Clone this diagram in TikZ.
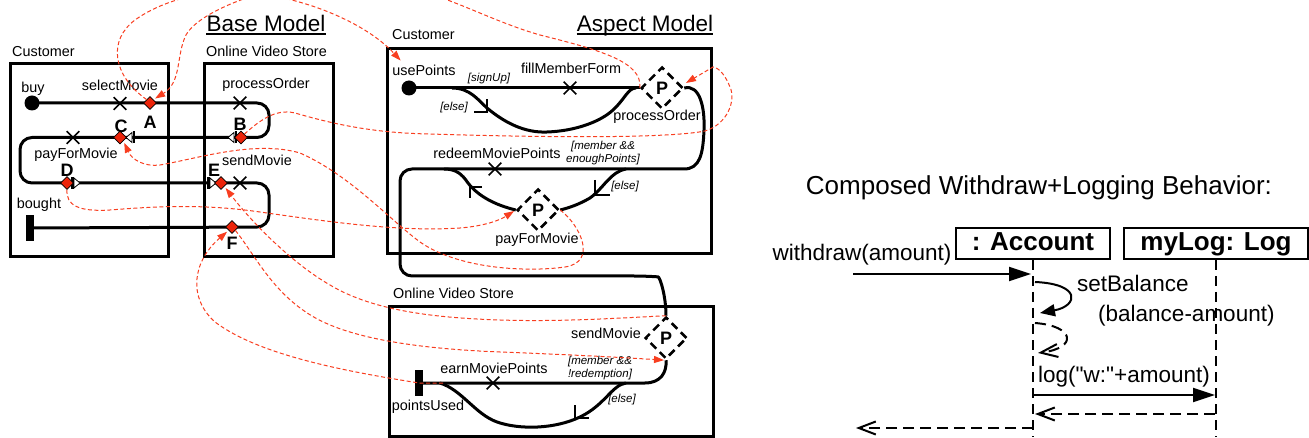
\documentclass[tikz,border=0pt]{standalone}
\usepackage{fontspec}
\setmainfont{Liberation Sans}
\usetikzlibrary{arrows.meta,shapes.geometric,shapes.misc}

\definecolor{mapred}{RGB}{248,62,32}
\definecolor{jpred}{RGB}{236,36,10}

\tikzset{
  x=1pt, y=-1pt,
  lbl/.style={inner sep=0pt, text height=10.5pt, text depth=3pt,
              font=\fontsize{14.4}{16}\selectfont},
  headtxt/.style={inner sep=0pt, anchor=base, font=\fontsize{22.5}{26}\selectfont},
  guardtxt/.style={inner sep=0pt, align=center, font=\fontsize{11.5}{13}\selectfont\itshape},
  jplbl/.style={inner sep=0pt, font=\fontsize{18}{20}\selectfont\bfseries},
  boxline/.style={draw, line width=3pt},
  flow/.style={line width=3pt},
  stickhead/.style={line width=2.6pt},
  startdot/.style={circle, fill, inner sep=0pt, minimum size=15pt},
  endbar/.style={rectangle, fill, inner sep=0pt, minimum width=8pt, minimum height=26pt},
  actx/.style={cross out, draw, line width=1.7pt, inner sep=0pt, minimum size=11pt},
  jpoint/.style={diamond, draw, fill=jpred, line width=0.6pt, inner sep=0pt,
                 minimum width=13pt, minimum height=13pt},
  proceedP/.style={diamond, draw, dash pattern=on 8pt off 5pt, line width=2.5pt, inner sep=0pt,
                   minimum width=42pt, minimum height=42pt, font=\fontsize{18}{20}\selectfont\bfseries},
  weave/.style={draw=mapred, line width=1pt, dash pattern=on 4pt off 2.5pt,
                -{Triangle[length=10pt,width=7pt]}, shorten >=2pt},
  gateleft/.pic={
    \filldraw[fill=white, draw=black, line width=0.8pt] (0,0) -- (6,-5) -- (6,5) -- cycle;
    \fill (6.5,-6) rectangle (9,6);},
  gateright/.pic={
    \filldraw[fill=white, draw=black, line width=0.8pt] (0,0) -- (-6,-5) -- (-6,5) -- cycle;
    \fill (-9,-6) rectangle (-6.5,6);},
  objbox/.style={draw, line width=2pt, inner sep=0pt, text height=19pt, text depth=5.5pt,
                 font=\fontsize{26}{30}\selectfont\bfseries},
  lifeline/.style={line width=1.6pt, dash pattern=on 10pt off 6pt},
  callmsg/.style={line width=2pt, -{Triangle[length=22pt,width=14pt]}},
  selfmsg/.style={line width=2pt, -{Triangle[length=15pt,width=12pt]}},
  retmsg/.style={line width=2pt, dash pattern=on 11pt off 6pt, -{Straight Barb[length=17pt,width=13pt]}},
  seqlbl/.style={inner sep=0pt, anchor=base west, font=\fontsize{22.5}{26}\selectfont},
}

\begin{document}
\begin{tikzpicture}
\useasboundingbox (0,0) rectangle (1309,438);
\clip (0,0) rectangle (1309,438);

% ================= Base model =================
\node[headtxt] (hBase) at (266,32) {Base Model};
\draw[line width=2pt] ([yshift=-2.5pt]hBase.base west) -- ([yshift=-2.5pt]hBase.base east);
\node[lbl, anchor=west] (lCustB) at (12,53) {Customer};
\node[lbl, anchor=west] (lStoreB) at (206,53) {Online Video Store};
\draw[boxline] (10,63.5) rectangle (168.5,256.5);
\draw[boxline] (204.5,63.5) rectangle (333.5,256.5);

\node[startdot] (buy) at (32,103) {};
\node[endbar] (bought) at (30,228) {};
\draw[flow, rounded corners=12pt] (buy.center) -- (269,103) -- (269,137.5) -- (20,137.5)
  -- (20,183) -- (269,183) -- (269,227) -- (bought.center);

\node[actx] (xSel) at (120,103.5) {};
\node[actx] (xProc) at (240,103) {};
\node[actx] (xPay) at (73,137.5) {};
\node[actx] (xSend) at (240,183) {};

\pic at (126,137.5) {gateleft};
\pic at (228,137.5) {gateleft};
\pic at (80,183) {gateright};
\pic at (216,183) {gateright};

\node[jpoint] (jA) at (150,103) {};
\node[jpoint] (jB) at (241,137.5) {};
\node[jpoint] (jC) at (120,137.5) {};
\node[jpoint] (jD) at (67,183) {};
\node[jpoint] (jE) at (221,183) {};
\node[jpoint] (jF) at (232,227) {};

\node[jplbl] (tA) at (150,122) {A};
\node[jplbl] (tB) at (240,124) {B};
\node[jplbl] (tC) at (121,126) {C};
\node[jplbl] (tD) at (67,170) {D};
\node[jplbl] (tE) at (214,170) {E};
\node[jplbl] (tF) at (232,243) {F};

\node[lbl] (lBuy) at (33,89) {buy};
\node[lbl] (lSel) at (120,87) {selectMovie};
\node[lbl] (lProcB) at (266,85) {processOrder};
\node[lbl] (lPayB) at (76,155) {payForMovie};
\node[lbl] (lSendB) at (257,162) {sendMovie};
\node[lbl] (lBought) at (39,205) {bought};

% ================= Aspect model =================
\node[headtxt] (hAsp) at (645,32) {Aspect Model};
\draw[line width=2pt] ([yshift=-2.5pt]hAsp.base west) -- ([yshift=-2.5pt]hAsp.base east);

% --- Customer lifeline
\node[lbl, anchor=west] (lCustA) at (392,36) {Customer};
\draw[boxline] (387.5,48.5) rectangle (711.5,253.5);

\node[proceedP] (P1) at (662,88) {P};
\node[proceedP] (P2) at (538,210) {P};
\node[proceedP] (P3) at (666,338) {P};

\node[startdot] (usePt) at (409,88) {};
\coordinate (brA) at (452,88);
\coordinate (mgA) at (636,88);
\draw[flow] (usePt.center) -- (P1.west);
\draw[flow] (brA) .. controls (470,88) and (478,100) .. (487,108)
  .. controls (505,123) and (525,133) .. (547,132)
  .. controls (575,131) and (600,122) .. (613,110)
  .. controls (625,99) and (628,88) .. (mgA);
\draw[stickhead] (474,112) -- (487,112) -- (487,99);
\node[actx] (xFill) at (570,88) {};

\draw[flow] (P1.east) .. controls (700,84) and (705,108) .. (704,130)
  .. controls (703,154) and (700,169) .. (684,169)
  [rounded corners=12pt] -- (400,169) -- (400,276) -- (646,276)
  [sharp corners] .. controls (660,277) and (666,296) .. (P3.north);

\coordinate (brB) at (626,169);
\draw[flow] (brB) .. controls (610,172) and (604,188) .. (590,198)
  .. controls (578,205) and (568,208) .. (P2.east);
\draw[stickhead] (595,180) -- (595,195) -- (610,195);
\coordinate (mgB) at (444,169);
\draw[flow] (P2.west) .. controls (495,205) and (478,196) .. (468,183)
  .. controls (462,174) and (456,169) .. (mgB);
\draw[stickhead] (482,187) -- (470,187) -- (470,198);
\node[actx] (xRedeem) at (495,169) {};

\node[lbl] (lUse) at (424,72) {usePoints};
\node[guardtxt] (gSign) at (489,79) {[signUp]};
\node[lbl] (lFill) at (571,70) {fillMemberForm};
\node[guardtxt] (gElse1) at (454,108) {[else]};
\node[lbl] (lProcA) at (657,117) {processOrder};
\node[lbl] (lRedeem) at (497,155) {redeemMoviePoints};
\node[guardtxt] (gMem1) at (603,153) {[member \&\&\\enoughPoints]};
\node[guardtxt] (gElse2) at (625,187) {[else]};
\node[lbl] (lPayA) at (537,240) {payForMovie};

% --- Online Video Store lifeline
\node[lbl, anchor=west] (lStoreA) at (393,295) {Online Video Store};
\draw[boxline] (389,306.5) rectangle (713.5,436.5);
\node[endbar] (pU) at (419,383) {};
\draw[flow] (P3.south) .. controls (667,372) and (661,383) .. (645,383) -- (pU.center);
\coordinate (brC) at (626,383);
\coordinate (mgC) at (440,383);
\draw[flow] (brC) .. controls (612,385) and (605,405) .. (580,417)
  .. controls (555,429) and (520,430) .. (497,422)
  .. controls (475,414) and (462,390) .. (mgC);
\draw[stickhead] (575,405) -- (575,418) -- (589,418);
\node[actx] (xEarn) at (493,383) {};

\node[lbl] (lSend) at (606,335) {sendMovie};
\node[lbl] (lEarn) at (494,370) {earnMoviePoints};
\node[guardtxt] (gMem2) at (600,368) {[member \&\&\\!redemption]};
\node[guardtxt] (gElse3) at (622,400) {[else]};
\node[lbl] (lPts) at (428,407) {pointsUsed};

% ================= Weaving mappings =================
\coordinate (upIn) at (402,62);
\coordinate (pUstart) at (443,383);
\draw[weave] (jA.north west) .. controls (112,75) and (108,40) .. (135,20)
  .. controls (160,2) and (200,-10) .. (240,-8)
  .. controls (300,-5) and (365,22) .. (upIn);
\draw[weave] (P1.west) .. controls (643,62) and (600,50) .. (540,35)
  .. controls (470,15) and (420,-25) .. (330,-20)
  .. controls (270,-15) and (200,10) .. (186,35)
  .. controls (176,55) and (182,82) .. (jA.north east);
\draw[weave] (jB.north east) .. controls (258,122) and (275,108) .. (295,113)
  .. controls (330,123) and (370,133) .. (430,134)
  .. controls (560,138) and (670,138) .. (705,131)
  .. controls (728,124) and (736,100) .. (730,87)
  .. controls (726,77) and (720,68) .. (713,67)
  -- ([yshift=4pt]P1.east);
\draw[weave] (P2.east) .. controls (580,225) and (598,262) .. (565,267)
  .. controls (530,272) and (460,270) .. (420,242)
  .. controls (390,220) and (350,175) .. (300,153)
  .. controls (255,140) and (200,158) .. (160,165)
  .. controls (145,167) and (132,160) .. (jC.south east);
\draw[weave] (jD.south) .. controls (66,205) and (78,212) .. (110,210)
  .. controls (160,206) and (205,204) .. (260,212)
  .. controls (330,222) and (400,232) .. (460,228)
  .. controls (485,226) and (500,220) .. (P2.west);
\draw[weave] (P3.north) .. controls (620,318) and (560,322) .. (500,320)
  .. controls (440,318) and (375,312) .. (330,285)
  .. controls (290,262) and (250,220) .. (jE.south east);
\draw[weave] (jF.south east) .. controls (255,255) and (272,292) .. (312,316)
  .. controls (352,340) and (425,349) .. (500,352)
  .. controls (580,355) and (630,358) .. (P3.south);
\draw[weave] (pUstart) -- (pU.center) .. controls (350,372) and (260,356) .. (215,322)
  .. controls (188,298) and (192,262) .. (jF.south west);

% ================= Sequence diagram =================
\node[inner sep=0pt, anchor=base, font=\fontsize{26}{30}\selectfont] (seqTitle) at (1039,195)
  {Composed Withdraw+Logging Behavior:};
\node[objbox, minimum width=154pt, minimum height=31pt] (acc) at (1033,243.5) {: Account};
\node[objbox, minimum width=184pt, minimum height=31pt] (mylog) at (1216,243.5) {myLog: Log};
\coordinate (accBot) at (1033,437);
\coordinate (logBot) at (1216,437);
\draw[lifeline] (acc.south) -- (accBot);
\draw[lifeline] (mylog.south) -- (logBot);

\coordinate (wIn) at (853,274);
\coordinate (wAt) at (1031,274);
\draw[callmsg] (wIn) -- (wAt);
\node[inner sep=0pt, anchor=base, font=\fontsize{22.5}{26}\selectfont] (lWd) at (862,261) {withdraw(amount)};

\coordinate (sbOut) at (1035,282);
\coordinate (sbIn) at (1040,313);
\draw[selfmsg] (sbOut) .. controls (1082,284) and (1078,306) .. (sbIn);
\coordinate (sbrOut) at (1035,323);
\coordinate (sbrIn) at (1038,353);
\draw[retmsg] (sbrOut) .. controls (1075,326) and (1078,348) .. (sbrIn);
\node[seqlbl] (lSb1) at (1077,292) {setBalance};
\node[seqlbl] (lSb2) at (1098,321) {(balance-amount)};

\coordinate (lgOut) at (1033,395);
\coordinate (lgIn) at (1215,395);
\draw[callmsg] (lgOut) -- (lgIn);
\node[seqlbl] (lLg) at (1038,382) {log(\textquotedbl w:\textquotedbl+amount)};
\coordinate (lrOut) at (1215,414);
\coordinate (lrIn) at (1035,414);
\draw[retmsg] (lrOut) -- (lrIn);
\coordinate (wrOut) at (1033,428);
\coordinate (wrIn) at (856,428);
\draw[retmsg] (wrOut) -- (wrIn);
\end{tikzpicture}
\end{document}
